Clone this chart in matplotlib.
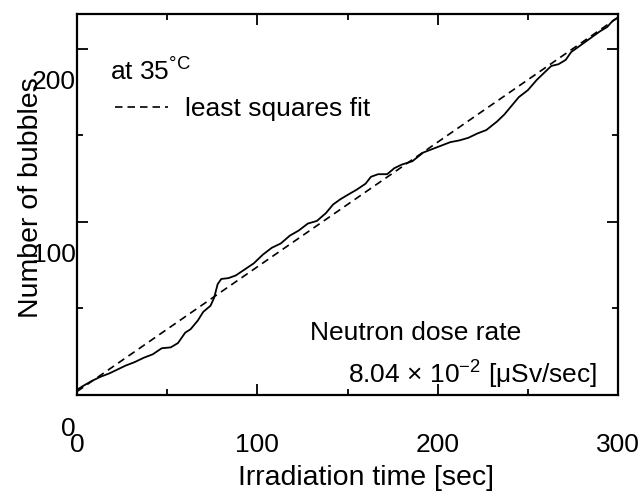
import numpy as np
import matplotlib
matplotlib.use("Agg")
import matplotlib.pyplot as plt
from matplotlib.ticker import MultipleLocator, FixedLocator
from matplotlib.transforms import ScaledTranslation

plt.rcParams['font.family'] = ['Liberation Sans', 'DejaVu Sans']
plt.rcParams['mathtext.fontset'] = 'custom'
plt.rcParams['mathtext.rm'] = 'Liberation Sans'
plt.rcParams['mathtext.it'] = 'Liberation Sans:italic'
plt.rcParams['mathtext.bf'] = 'Liberation Sans:bold'

# ---- data ----
time_sec = [0, 3, 8, 13, 18, 22, 27, 32, 37, 42, 47, 52, 56, 60, 63, 67, 70, 74,
            76, 78, 80, 84, 88, 93, 98, 103, 108, 113, 118, 123, 128, 133, 138,
            142, 146, 150, 155, 160, 163, 167, 172, 176, 180, 186, 192, 197, 202,
            207, 212, 217, 222, 227, 233, 237, 241, 245, 250, 255, 260, 263, 267,
            271, 274, 278, 282, 286, 290, 294, 297, 300]
bubbles = [3, 5, 8, 10.5, 12.5, 14.5, 17, 19, 21.5, 23.5, 27, 27.5, 30, 36, 38,
           43, 48, 51.5, 56, 64, 67, 67.5, 69, 72.5, 76, 81, 85, 87.5, 92, 95, 99,
           100.5, 105, 110, 113, 115.5, 118.5, 122, 126, 127.5, 127.5, 131, 133,
           135, 140, 142, 144, 146, 147, 148.5, 151, 153, 158, 162, 167, 172, 176,
           182, 187, 190, 191, 193.5, 198, 201, 204, 207, 210, 212.5, 216, 218]
fit_time = [0, 300]
fit_bubbles = [2, 218]

x_ticks = [0, 100, 200, 300]
y_ticks = [0, 100, 200]
x_ticklabels = ['0', '100', '200', '300']
y_ticklabels = ['0', '100', '200']

W, H = 643, 496
fig = plt.figure(figsize=(W / 100, H / 100), dpi=100)
L, R, T, B = 77, 618, 14, 395
ax = fig.add_axes([L / W, 1 - B / H, (R - L) / W, (B - T) / H])

ax.plot(time_sec, bubbles, color='black', lw=1.3)
ax.plot(fit_time, fit_bubbles, color='black', lw=1.2, ls=(0, (4.5, 3)),
        label='least squares fit')

ax.set_xlim(0, 300)
ax.set_ylim(0, 220)
ax.xaxis.set_major_locator(FixedLocator(x_ticks))
ax.yaxis.set_major_locator(FixedLocator(y_ticks))
ax.set_xticklabels(x_ticklabels)
ax.set_yticklabels(y_ticklabels)
ax.xaxis.set_minor_locator(MultipleLocator(50))
ax.yaxis.set_minor_locator(MultipleLocator(50))

for s in ax.spines.values():
    s.set_linewidth(1.6)
ax.tick_params(which='both', direction='in', top=True, right=True, width=1.3)
ax.tick_params(which='major', length=8)
ax.tick_params(which='minor', length=4)
ax.tick_params(axis='x', which='major', labelsize=19, pad=27)
ax.tick_params(axis='y', which='major', labelsize=19, pad=1)

off = ScaledTranslation(0, -0.31, fig.dpi_scale_trans)
for lab in ax.get_yticklabels():
    lab.set_transform(lab.get_transform() + off)

ax.set_xlabel('Irradiation time [sec]', fontsize=20.5, va='center', ha='center')
ax.xaxis.set_label_coords((366 - L) / (R - L), (B - 478) / (B - T))
ax.set_ylabel('Number of bubbles', fontsize=20.5, va='center', ha='center')
ax.yaxis.set_label_coords((31 - L) / (R - L), (B - 198) / (B - T))

ax.text(0.061, 0.848, 'at 35$^{\\mathrm{°C}}$', transform=ax.transAxes,
        fontsize=19, ha='left', va='center')
ax.legend(loc='upper left', bbox_to_anchor=(0.070, 0.782), frameon=False,
          fontsize=19, handlelength=2.0, handletextpad=0.65, borderpad=0,
          borderaxespad=0)

ax.text(0.431, 0.163, 'Neutron dose rate', transform=ax.transAxes,
        fontsize=19, ha='left', va='center')
ax.text(0.501, 0.052, '8.04 × 10$^{\\mathrm{-2}}$ [μSv/sec]', transform=ax.transAxes,
        fontsize=19, ha='left', va='center')

fig.savefig('out.png', dpi=100)
